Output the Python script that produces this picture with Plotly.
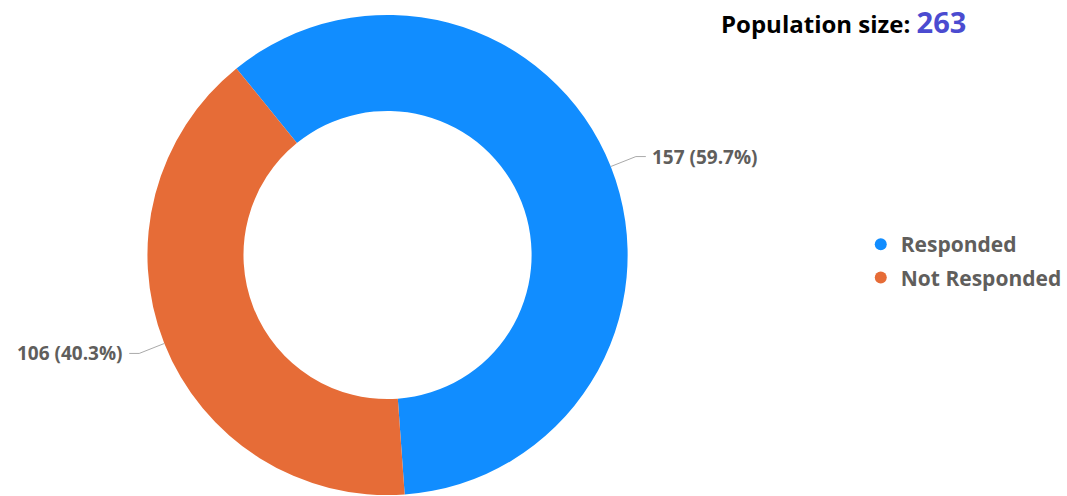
import math
import plotly.graph_objects as go

categories = ["Responded", "Not Responded"]
values = [157, 106]
colors = ["#118DFF", "#E66C37"]
title_text = "Population size: "

W, H = 1067, 496
# pie geometry (pixels)
cx, cy, R = 389, 255, 241
rotation = -39.0

total = sum(values)

fig = go.Figure()
fig.add_trace(go.Pie(
    labels=categories, values=values, hole=0.6, sort=False,
    direction="clockwise", rotation=rotation,
    marker=dict(colors=colors, line=dict(width=0)),
    textinfo="none", hoverinfo="label+value+percent", showlegend=False,
    domain=dict(x=[(cx - R) / W, (cx + R) / W], y=[(H - cy - R) / H, (H - cy + R) / H]),
))

for cat, col in zip(categories, colors):
    fig.add_trace(go.Scatter(x=[None], y=[None], mode="markers", name="<b>" + cat + "</b>",
                             legendgroup=cat,
                             marker=dict(symbol="circle", size=12, color=col)))

def px2paper(x, y):
    return x / W, 1 - y / H

shapes = []
annotations = []
start = rotation
for cat, v in zip(categories, values):
    span = 360 * v / total
    mid = math.radians(start + span / 2)
    start += span
    s, c = math.sin(mid), math.cos(mid)
    x0, y0 = cx + R * s, cy - R * c
    x1, y1 = cx + (R + 27) * s, cy - (R + 27) * c
    side = 1 if s >= 0 else -1
    x2 = x1 + 10 * side
    pts = [px2paper(x0, y0), px2paper(x1, y1), px2paper(x2, y1)]
    path = "M {} {} L {} {} L {} {}".format(pts[0][0], pts[0][1], pts[1][0], pts[1][1], pts[2][0], pts[2][1])
    shapes.append(dict(type="path", xref="paper", yref="paper", path=path,
                       line=dict(color="#AAAAAA", width=1)))
    tx, ty = px2paper(x2 + 4 * side, y1)
    annotations.append(dict(
        x=tx, y=ty, xref="paper", yref="paper", showarrow=False,
        xanchor="left" if side > 0 else "right", yanchor="middle",
        text="<b>{} ({:.1f}%)</b>".format(v, 100 * v / total),
        font=dict(family="Open Sans", size=19, color="#605E5C"),
    ))

annotations.append(dict(
    x=847 / W, y=1 - 21 / H, xref="paper", yref="paper", showarrow=False,
    xanchor="center", yanchor="middle",
    text="<b>" + title_text + "</b><b><span style='color:#4B4BD0;font-size:29px'>" + str(total) + "</span></b>",
    font=dict(family="Open Sans", size=24, color="#000000"),
))

fig.update_layout(
    width=W, height=H, margin=dict(l=0, r=0, t=0, b=0),
    paper_bgcolor="white", plot_bgcolor="white",
    xaxis=dict(visible=False), yaxis=dict(visible=False),
    shapes=shapes, annotations=annotations,
    legend=dict(x=864 / W, y=1 - 224 / H, xanchor="left", yanchor="top",
                font=dict(family="Open Sans", size=21, color="#605E5C"),
                itemwidth=30, tracegroupgap=3, bgcolor="rgba(0,0,0,0)"),
)

fig.write_html("out.html", config={"displayModeBar": False},
               post_script="document.body.style.margin='0px';")
